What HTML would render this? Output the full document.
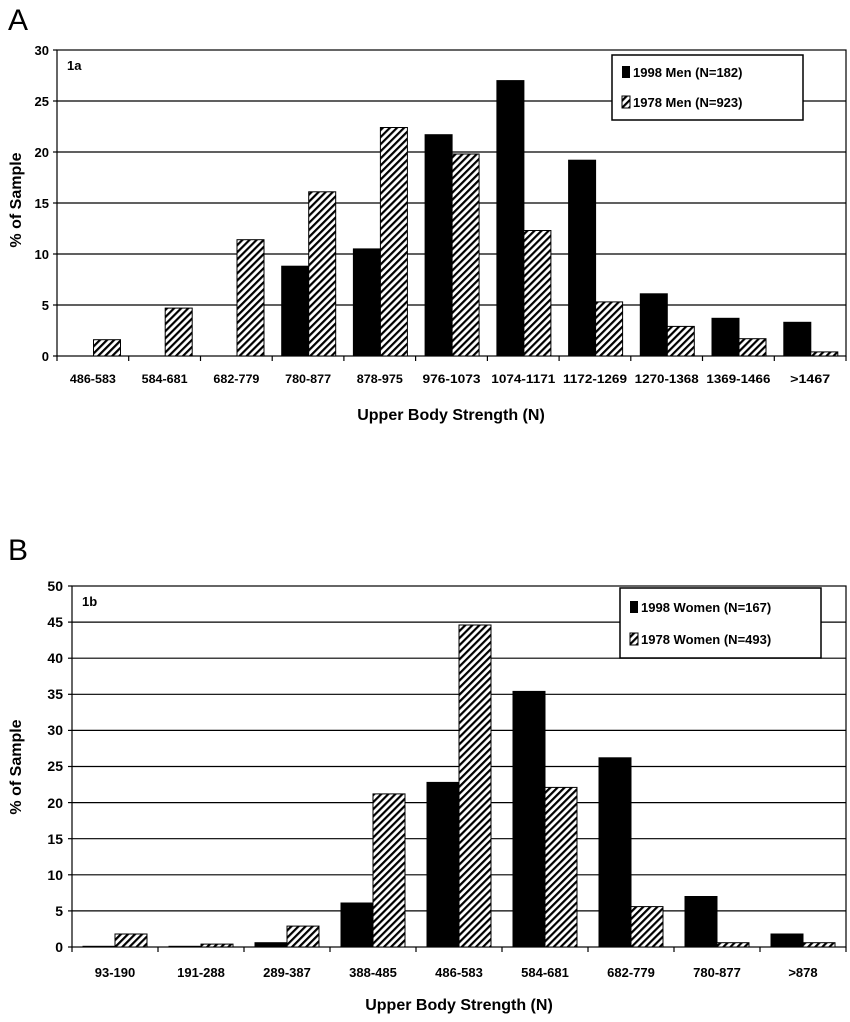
<!DOCTYPE html>
<html><head><meta charset="utf-8"><style>body{margin:0;background:#fff}svg{display:block}text{font-family:"Liberation Sans",Arial,sans-serif;font-weight:bold;fill:#000}</style></head>
<body>
<svg width="850" height="1022" viewBox="0 0 850 1022" xmlns="http://www.w3.org/2000/svg">
<defs><pattern id="h" patternUnits="userSpaceOnUse" width="5" height="5" patternTransform="rotate(45)"><rect width="5" height="5" fill="#fff"/><rect width="2.2" height="5" fill="#000"/></pattern></defs>
<text x="8" y="30" font-size="30" style="font-weight:normal">A</text>
<text x="8" y="560" font-size="30" style="font-weight:normal">B</text>

<!-- TOP CHART -->
<g stroke="#000" stroke-width="1.2">
<line x1="57" x2="846" y1="305" y2="305"/><line x1="57" x2="846" y1="254" y2="254"/><line x1="57" x2="846" y1="203" y2="203"/><line x1="57" x2="846" y1="152" y2="152"/><line x1="57" x2="846" y1="101" y2="101"/>
<rect x="57" y="50" width="789" height="306" fill="none"/>
<line x1="53" x2="57" y1="356" y2="356"/><line x1="53" x2="57" y1="305" y2="305"/><line x1="53" x2="57" y1="254" y2="254"/><line x1="53" x2="57" y1="203" y2="203"/><line x1="53" x2="57" y1="152" y2="152"/><line x1="53" x2="57" y1="101" y2="101"/><line x1="53" x2="57" y1="50" y2="50"/>
<line x1="57" x2="57" y1="356" y2="361"/><line x1="128.7" x2="128.7" y1="356" y2="361"/><line x1="200.5" x2="200.5" y1="356" y2="361"/><line x1="272.2" x2="272.2" y1="356" y2="361"/><line x1="343.9" x2="343.9" y1="356" y2="361"/><line x1="415.6" x2="415.6" y1="356" y2="361"/><line x1="487.4" x2="487.4" y1="356" y2="361"/><line x1="559.1" x2="559.1" y1="356" y2="361"/><line x1="630.8" x2="630.8" y1="356" y2="361"/><line x1="702.5" x2="702.5" y1="356" y2="361"/><line x1="774.3" x2="774.3" y1="356" y2="361"/><line x1="846" x2="846" y1="356" y2="361"/>
</g>
<g font-size="13" text-anchor="end">
<text x="49" y="361">0</text><text x="49" y="310">5</text><text x="49" y="259">10</text><text x="49" y="208">15</text><text x="49" y="157">20</text><text x="49" y="106">25</text><text x="49" y="55">30</text>
</g>
<g fill="#000" stroke="#000">
<rect x="281.7" y="266.2" width="27" height="89.8"/>
<rect x="353.4" y="248.9" width="27" height="107.1"/>
<rect x="425.1" y="134.7" width="27" height="221.3"/>
<rect x="496.9" y="80.6" width="27" height="275.4"/>
<rect x="568.6" y="160.2" width="27" height="195.8"/>
<rect x="640.3" y="293.8" width="27" height="62.2"/>
<rect x="712" y="318.3" width="27" height="37.7"/>
<rect x="783.8" y="322.3" width="27" height="33.7"/>
</g>
<g fill="url(#h)" stroke="#000">
<rect x="93.5" y="339.7" width="27" height="16.3"/>
<rect x="165.2" y="308.1" width="27" height="47.9"/>
<rect x="237" y="239.7" width="27" height="116.3"/>
<rect x="308.7" y="191.8" width="27" height="164.2"/>
<rect x="380.4" y="127.5" width="27" height="228.5"/>
<rect x="452.1" y="154" width="27" height="202"/>
<rect x="523.9" y="230.5" width="27" height="125.5"/>
<rect x="595.6" y="301.9" width="27" height="54.1"/>
<rect x="667.3" y="326.4" width="27" height="29.6"/>
<rect x="739" y="338.7" width="27" height="17.3"/>
<rect x="810.8" y="351.9" width="27" height="4.1"/>
</g>
<g font-size="12" text-anchor="middle">
<text x="92.9" y="383" textLength="46" lengthAdjust="spacingAndGlyphs">486-583</text>
<text x="164.6" y="383" textLength="46" lengthAdjust="spacingAndGlyphs">584-681</text>
<text x="236.4" y="383" textLength="46" lengthAdjust="spacingAndGlyphs">682-779</text>
<text x="308.1" y="383" textLength="46" lengthAdjust="spacingAndGlyphs">780-877</text>
<text x="379.8" y="383" textLength="46" lengthAdjust="spacingAndGlyphs">878-975</text>
<text x="451.5" y="383" textLength="58" lengthAdjust="spacingAndGlyphs">976-1073</text>
<text x="523.3" y="383" textLength="64" lengthAdjust="spacingAndGlyphs">1074-1171</text>
<text x="595" y="383" textLength="64" lengthAdjust="spacingAndGlyphs">1172-1269</text>
<text x="666.7" y="383" textLength="64" lengthAdjust="spacingAndGlyphs">1270-1368</text>
<text x="738.4" y="383" textLength="64" lengthAdjust="spacingAndGlyphs">1369-1466</text>
<text x="810.2" y="383" textLength="40" lengthAdjust="spacingAndGlyphs">&gt;1467</text>
</g>
<text x="67" y="70" font-size="13">1a</text>
<rect x="612" y="55" width="191" height="65" fill="#fff" stroke="#000" stroke-width="1.5"/>
<rect x="622" y="66" width="8" height="12" fill="#000"/><text x="633" y="77" font-size="13">1998 Men (N=182)</text>
<rect x="622" y="96" width="8" height="12" fill="url(#h)" stroke="#000"/><text x="633" y="107" font-size="13">1978 Men (N=923)</text>

<!-- BOTTOM CHART -->
<g stroke="#000" stroke-width="1.2">
<line x1="72" x2="846" y1="910.9" y2="910.9"/><line x1="72" x2="846" y1="874.8" y2="874.8"/><line x1="72" x2="846" y1="838.7" y2="838.7"/><line x1="72" x2="846" y1="802.6" y2="802.6"/><line x1="72" x2="846" y1="766.5" y2="766.5"/><line x1="72" x2="846" y1="730.4" y2="730.4"/><line x1="72" x2="846" y1="694.3" y2="694.3"/><line x1="72" x2="846" y1="658.2" y2="658.2"/><line x1="72" x2="846" y1="622.1" y2="622.1"/>
<rect x="72" y="586" width="774" height="361" fill="none"/>
<line x1="68" x2="72" y1="947" y2="947"/><line x1="68" x2="72" y1="910.9" y2="910.9"/><line x1="68" x2="72" y1="874.8" y2="874.8"/><line x1="68" x2="72" y1="838.7" y2="838.7"/><line x1="68" x2="72" y1="802.6" y2="802.6"/><line x1="68" x2="72" y1="766.5" y2="766.5"/><line x1="68" x2="72" y1="730.4" y2="730.4"/><line x1="68" x2="72" y1="694.3" y2="694.3"/><line x1="68" x2="72" y1="658.2" y2="658.2"/><line x1="68" x2="72" y1="622.1" y2="622.1"/><line x1="68" x2="72" y1="586" y2="586"/>
<line x1="72" x2="72" y1="947" y2="952"/><line x1="158" x2="158" y1="947" y2="952"/><line x1="244" x2="244" y1="947" y2="952"/><line x1="330" x2="330" y1="947" y2="952"/><line x1="416" x2="416" y1="947" y2="952"/><line x1="502" x2="502" y1="947" y2="952"/><line x1="588" x2="588" y1="947" y2="952"/><line x1="674" x2="674" y1="947" y2="952"/><line x1="760" x2="760" y1="947" y2="952"/><line x1="846" x2="846" y1="947" y2="952"/>
</g>
<g font-size="14" text-anchor="end">
<text x="63" y="952">0</text><text x="63" y="916">5</text><text x="63" y="880">10</text><text x="63" y="844">15</text><text x="63" y="808">20</text><text x="63" y="771">25</text><text x="63" y="735">30</text><text x="63" y="699">35</text><text x="63" y="663">40</text><text x="63" y="627">45</text><text x="63" y="591">50</text>
</g>
<g fill="#000" stroke="#000">
<rect x="83" y="946.3" width="32" height="0.7"/>
<rect x="169" y="946.3" width="32" height="0.7"/>
<rect x="255" y="942.7" width="32" height="4.3"/>
<rect x="341" y="903" width="32" height="44"/>
<rect x="427" y="782.4" width="32" height="164.6"/>
<rect x="513" y="691.4" width="32" height="255.6"/>
<rect x="599" y="757.8" width="32" height="189.2"/>
<rect x="685" y="896.5" width="32" height="50.5"/>
<rect x="771" y="934" width="32" height="13"/>
</g>
<g fill="url(#h)" stroke="#000">
<rect x="115" y="934" width="32" height="13"/>
<rect x="201" y="944.1" width="32" height="2.9"/>
<rect x="287" y="926.1" width="32" height="20.9"/>
<rect x="373" y="793.9" width="32" height="153.1"/>
<rect x="459" y="625" width="32" height="322"/>
<rect x="545" y="787.4" width="32" height="159.6"/>
<rect x="631" y="906.6" width="32" height="40.4"/>
<rect x="717" y="942.7" width="32" height="4.3"/>
<rect x="803" y="942.7" width="32" height="4.3"/>
</g>
<g font-size="13" text-anchor="middle">
<text x="115" y="977">93-190</text><text x="201" y="977">191-288</text><text x="287" y="977">289-387</text><text x="373" y="977">388-485</text><text x="459" y="977">486-583</text><text x="545" y="977">584-681</text><text x="631" y="977">682-779</text><text x="717" y="977">780-877</text><text x="803" y="977">&gt;878</text>
</g>
<text x="82" y="606" font-size="13">1b</text>
<rect x="620" y="588" width="201" height="70" fill="#fff" stroke="#000" stroke-width="1.5"/>
<rect x="630" y="601" width="8" height="12" fill="#000"/><text x="641" y="612" font-size="13">1998 Women (N=167)</text>
<rect x="630" y="633" width="8" height="12" fill="url(#h)" stroke="#000"/><text x="641" y="644" font-size="13">1978 Women (N=493)</text>

<text x="451" y="420" font-size="16" text-anchor="middle">Upper Body Strength (N)</text>
<text x="459" y="1010" font-size="16" text-anchor="middle">Upper Body Strength (N)</text>
<text transform="translate(21,200) rotate(-90)" font-size="16" text-anchor="middle">% of Sample</text>
<text transform="translate(21,767) rotate(-90)" font-size="16" text-anchor="middle">% of Sample</text>
</svg>
</body></html>
